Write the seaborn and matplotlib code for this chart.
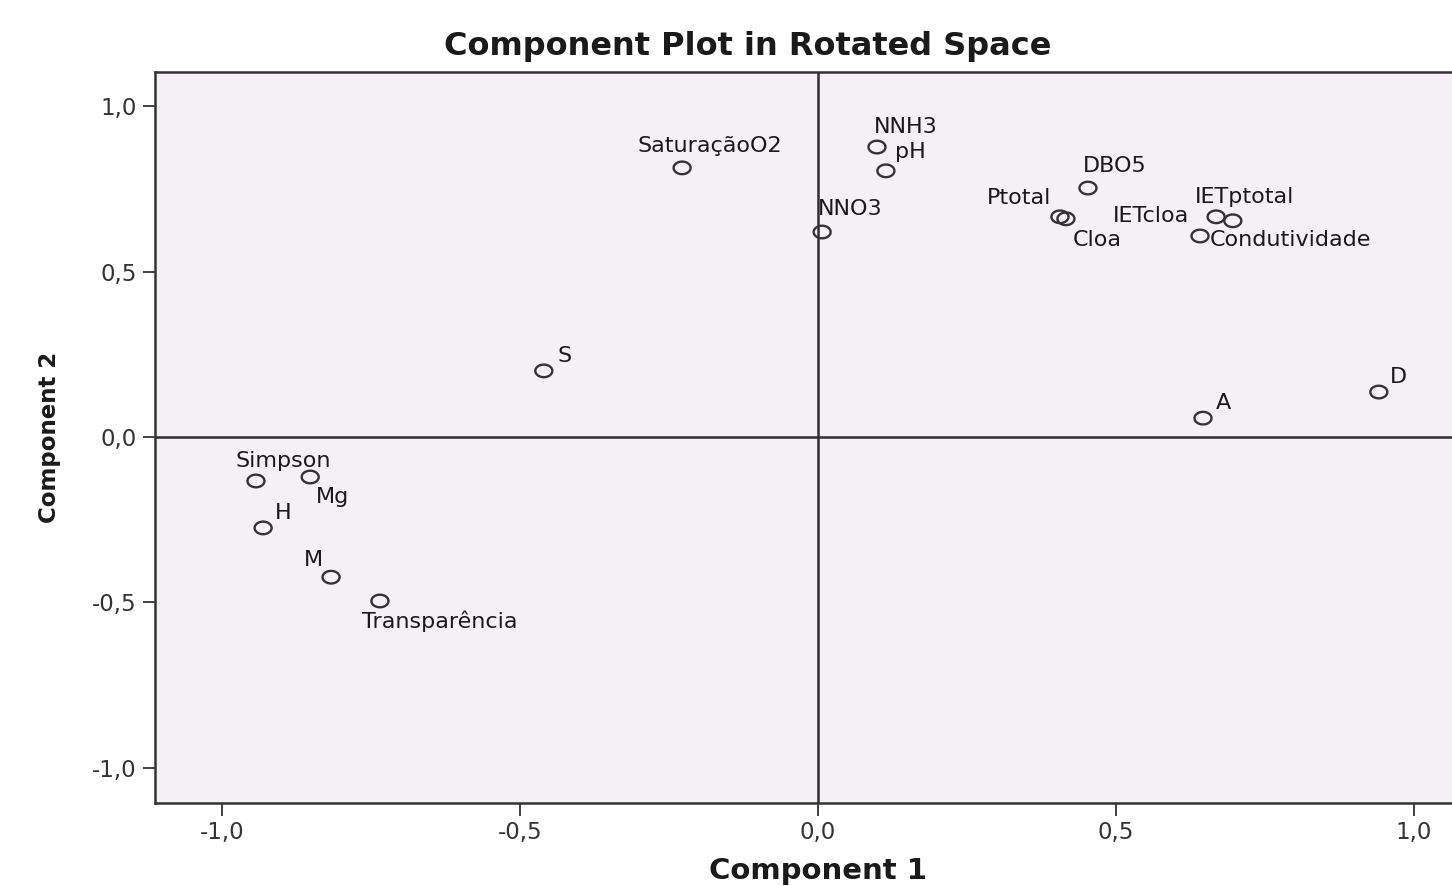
import matplotlib
matplotlib.use("Agg")
import matplotlib.pyplot as plt
from matplotlib.path import Path
import numpy as np
import pandas as pd
import seaborn as sns

# ---- data (rotated component loadings) ----
variables = ["SaturaçãoO2", "NNH3", "pH", "NNO3", "DBO5", "Ptotal", "Cloa",
             "IETcloa", "IETptotal", "Condutividade", "S", "A", "D",
             "Simpson", "Mg", "H", "M", "Transparência"]
component1 = [-0.228, 0.099, 0.114, 0.007, 0.453, 0.406, 0.416,
              0.668, 0.696, 0.641, -0.460, 0.646, 0.941,
              -0.943, -0.852, -0.931, -0.817, -0.735]
component2 = [0.814, 0.877, 0.805, 0.620, 0.753, 0.666, 0.660,
              0.666, 0.654, 0.608, 0.200, 0.057, 0.136,
              -0.133, -0.121, -0.275, -0.424, -0.496]
tick_values = [-1.0, -0.5, 0.0, 0.5, 1.0]
tick_labels = ["-1,0", "-0,5", "0,0", "0,5", "1,0"]

# label placement offsets (pixels, relative to each point)
label_dx = [28, 29, 24, 28, 27, -41, 31, -65, 12, 90, 21, 20, 20, 27, 22, 20, -18, 60]
label_dy = [22, 20, 19, 23, 22, 19, -21, 1, 24, -4, 15, 15, 15, 20, -20, 15, 17, -20]

df = pd.DataFrame({"variable": variables, "Component 1": component1,
                   "Component 2": component2})

sns.set_theme(style="white")
plt.rcParams["font.family"] = ["DejaVu Sans"]

W, H = 1452, 886
fig = plt.figure(figsize=(W / 100, H / 100), dpi=100)
fig.patch.set_facecolor("white")
left_px, right_px, top_px, bot_px = 155, 1460, 72, 803
ax = fig.add_axes([left_px / W, 1 - bot_px / H, (right_px - left_px) / W,
                   (bot_px - top_px) / H])
ax.set_facecolor("#F4F1F5")

# ellipse marker (slightly wide, as in the reference)
t = np.linspace(0, 2 * np.pi, 60)
ell = Path(np.column_stack([1.35 * np.cos(t), np.sin(t)]), closed=True)

sns.scatterplot(data=df, x="Component 1", y="Component 2", ax=ax,
                marker=ell, s=150, linewidth=1.7, edgecolor="#333333",
                color="none", zorder=3)
for coll in ax.collections:
    coll.set_facecolor("none")
    coll.set_edgecolor("#333333")

ax.axhline(0, color="#2e2e2e", lw=1.8, zorder=2)
ax.axvline(0, color="#2e2e2e", lw=1.8, zorder=2)

for name, x, y, dx, dy in zip(variables, component1, component2, label_dx, label_dy):
    ax.annotate(name, (x, y), xytext=(dx, dy), textcoords="offset pixels",
                ha="center", va="center", fontsize=16, color="#1a1a1a")

ax.set_xlim(-1.1124, 1.0772)
ax.set_ylim(-1.107, 1.104)
ax.set_xticks(tick_values)
ax.set_xticklabels(tick_labels)
ax.set_yticks(tick_values)
ax.set_yticklabels(tick_labels)
ax.tick_params(axis="both", which="major", labelsize=16.5, length=9, width=1.3,
               color="#333333", labelcolor="#333333", pad=4,
               bottom=True, left=True)
ax.set_xlabel("")
ax.set_ylabel("")

for side in ["left", "bottom", "top"]:
    ax.spines[side].set_visible(True)
    ax.spines[side].set_color("#333333")
    ax.spines[side].set_linewidth(1.8)
ax.spines["right"].set_visible(False)

fig.text(748 / W, 1 - 47 / H, "Component Plot in Rotated Space", ha="center",
         va="center", fontsize=23, fontweight="bold", color="#1a1a1a")
fig.text(818 / W, 1 - 871 / H, "Component 1", ha="center", va="center",
         fontsize=21, fontweight="bold", color="#1a1a1a")
fig.text(50 / W, 1 - 437 / H, "Component 2", ha="center", va="center",
         rotation=90, fontsize=16.5, fontweight="bold", color="#1a1a1a")

fig.savefig("out.png", dpi=100)
